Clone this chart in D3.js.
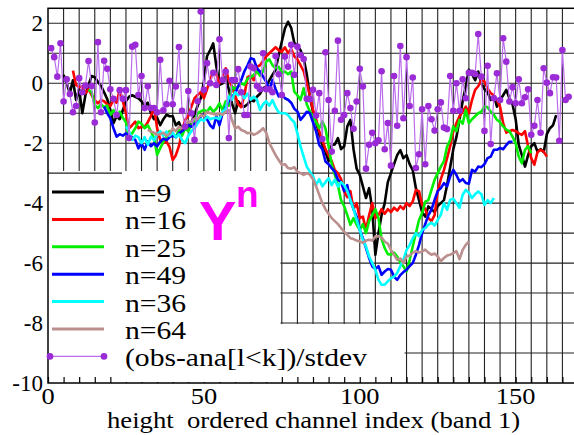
<!DOCTYPE html>
<html>
<head>
<meta charset="utf-8">
<script src="https://cdn.jsdelivr.net/npm/d3@7/dist/d3.min.js"></script>
</head>
<body style="margin:0">
<svg id="chart" width="574" height="435"></svg>
<script>

// Datos: cada serie empieza en un canal y sigue de uno en uno
var n9Start = 5;
var n9 = [0.28, 0.0, -0.33, 0.1, -0.56, -0.2, -1.0, -0.4, -0.06, 0.24, 0.2, 0.05, -0.09, -0.3, -0.53, -0.9,
  -1.33, -1.1, -1.2, -0.9, -0.6, -0.45, -0.4, -0.45, -0.5, -0.6, -0.75, -0.65, -1.0, -1.2, -1.15, -1.4,
  -1.2, -1.05, -1.1, -1.1, -1.4, -1.3, -1.55, -1.3, -1.55, -1.3, -1.05, -0.75, -0.5, 0.05, 0.9, 1.1,
  1.33, 0.56, -0.05, 0.0, 0.28, -0.22, -0.67, -1.0, -0.6, -0.75, -0.78, -0.7, -0.56, -0.6, -0.45, -0.35,
  -0.17, -0.1, 0.1, 0.28, 0.45, 0.94, 1.39, 1.83, 2.05, 1.85, 1.35, 1.25, 1.1, 0.83, 0.3, -0.45,
  -0.95, -1.3, -1.7, -2.05, -2.3, -2.6, -2.06, -2.04, -1.83, -2.2, -2.1, -1.44, -1.22, -2.2, -2.85, -3.06,
  -3.44, -3.83, -3.5, -4.2, -5.72, -5.0, -4.4, -4.0, -3.3, -3.0, -2.7, -2.4, -2.23, -2.5, -2.4, -2.7,
  -2.9, -3.5, -3.9, -4.3, -4.45, -4.11, -4.2, -4.3, -4.1, -4.0, -3.9, -3.4, -2.8, -2.2, -1.8, -1.2,
  -0.6, -0.1, 0.45, 0.3, 0.1, 0.39, 0.0, -0.2, -0.3, -0.56, -0.4, -0.78, -0.56, -0.4, -0.22, -0.5,
  -0.7, -1.2, -2.06, -2.4, -2.78, -2.4, -2.1, -2.0, -2.28, -2.2, -2.3, -1.7, -1.5, -1.4, -1.06];

var n16Start = 8;
var n16 = [0.42, -0.06, -0.13, -0.1, -0.33, -0.2, -0.4, -0.56, -0.67, -0.56, -0.6, -0.7, -0.76, -0.56, -0.65, -0.22,
  -0.6, -1.0, -1.5, -1.4, -1.28, -1.5, -1.45, -1.46, -1.3, -1.1, -0.78, -1.5, -1.89, -2.0, -1.95, -2.13,
  -2.56, -2.4, -2.1, -1.6, -1.22, -1.1, -0.78, -0.5, -0.39, -0.3, -0.5, -0.2, 0.1, 0.4, 0.3, 0.0,
  0.2, 0.5, 0.1, -0.1, -0.4, -0.7, -0.8, -0.4, 0.2, 0.25, 0.1, 0.55, 0.6, 0.75, 0.9, 1.0,
  1.1, 1.2, 1.1, 1.05, 1.2, 1.0, 1.15, 0.9, 0.8, 0.6, 0.4, 0.0, -0.4, -0.9, -1.2, -1.6,
  -1.9, -2.2, -2.4, -2.6, -2.9, -3.0, -3.2, -3.6, -3.8, -3.6, -4.2, -4.0, -4.5, -4.45, -4.9, -4.4,
  -4.0, -4.5, -4.4, -4.2, -4.35, -4.2, -4.3, -4.15, -4.25, -4.1, -4.2, -4.0, -4.1, -3.94, -3.56, -3.6,
  -4.06, -4.2, -4.5, -4.6, -4.4, -3.6, -3.2, -2.9, -2.5, -2.1, -1.6, -1.33, -1.1, -0.94, -0.78, -1.0,
  -0.56, -0.22, -0.1, 0.11, 0.05, -0.17, -0.33, -0.4, -0.56, -0.78, -1.33, -1.65, -1.6, -1.56, -1.6, -1.67,
  -1.72, -1.6, -2.11, -2.5, -2.72, -2.3, -2.22, -2.28, -2.45];

var n25Start = 13;
var n25 = [-0.22, -0.3, -0.72, -0.83, -0.7, -0.8, -0.75, -1.06, -0.9, -1.1, -0.95, -1.15, -1.3, -1.78, -1.67, -1.5,
  -1.28, -1.35, -1.5, -1.4, -1.6, -1.83, -2.39, -2.17, -1.95, -1.78, -1.6, -1.7, -1.8, -1.56, -1.75, -1.5,
  -1.6, -1.39, -1.25, -1.0, -0.94, -0.89, -0.95, -0.8, -0.95, -0.85, -0.67, -0.9, -0.6, -0.75, -0.11, -0.2,
  -0.11, 0.0, -0.05, 0.15, 0.2, 0.28, 0.4, 0.25, 0.4, 0.72, 0.8, 0.6, 0.5, 0.55, 0.35, 0.39,
  0.3, 0.39, -0.28, -0.4, -0.56, -0.17, -0.7, -0.94, -1.11, -1.3, -1.5, -1.28, -1.5, -2.1, -2.7, -3.06,
  -3.4, -3.9, -4.1, -4.4, -4.72, -4.5, -4.72, -4.89, -4.7, -5.0, -4.6, -4.4, -4.2, -4.5, -5.2, -5.5,
  -5.7, -5.72, -5.65, -5.78, -5.99, -6.11, -6.28, -5.9, -5.44, -5.0, -4.56, -4.33, -3.95, -3.9, -3.56, -3.22,
  -3.0, -2.78, -2.6, -2.11, -1.9, -1.44, -1.6, -1.22, -1.35, -0.89, -1.33, -1.2, -1.1, -1.0, -0.95, -0.78,
  -0.8, -0.95, -1.05, -1.22, -1.3, -1.44, -1.55, -1.6, -1.78, -2.0, -2.45, -2.67, -2.22, -2.1, -2.33];

var n49Start = 18;
var n49 = [-0.78, -1.0, -1.17, -1.5, -1.78, -1.7, -1.75, -1.67, -1.75, -1.8, -1.89, -2.17, -2.0, -2.22, -1.94, -2.1,
  -2.0, -2.1, -1.95, -1.85, -1.9, -1.8, -1.75, -1.8, -1.67, -1.6, -1.5, -1.4, -1.45, -1.35, -1.3, -1.1,
  -1.06, -1.2, -1.4, -1.5, -1.1, -1.4, -1.0, -0.8, -0.6, -0.44, -0.35, -0.1, 0.11, 0.4, 0.6, 0.83,
  0.8, 0.5, 0.39, 0.22, 0.05, -0.22, 0.11, -0.2, -0.44, -0.39, -0.5, -0.55, -0.65, -0.85, -0.94, -1.22,
  -1.1, -0.95, -1.0, -1.3, -1.61, -2.06, -2.2, -2.61, -2.7, -2.83, -2.95, -3.22, -3.3, -3.6, -3.4, -3.9,
  -4.2, -4.45, -4.9, -5.17, -5.5, -5.83, -6.11, -6.2, -6.1, -6.39, -6.28, -6.2, -6.22, -6.45, -6.56, -6.4,
  -6.3, -6.22, -6.1, -6.0, -5.72, -5.4, -5.0, -4.7, -4.4, -4.22, -3.89, -3.6, -3.5, -3.33, -3.44, -3.11,
  -2.89, -3.06, -3.28, -3.2, -3.33, -3.35, -2.89, -2.95, -2.78, -2.8, -2.7, -2.5, -2.45, -2.22, -2.22, -2.16,
  -2.2, -2.06, -1.95, -1.95];

var n36Start = 25;
var n36 = [-1.44, -1.6, -1.89, -1.75, -1.8, -2.0, -1.8, -2.05, -1.78, -1.9, -1.7, -1.6, -1.75, -1.61, -1.75, -1.65,
  -1.8, -1.7, -1.9, -2.0, -1.75, -1.6, -1.5, -1.33, -1.2, -1.25, -1.11, -1.2, -1.17, -1.15, -1.2, -0.95,
  -0.85, -0.44, -0.55, -0.3, -0.4, -0.33, -0.5, -0.35, -0.55, -0.45, -0.55, -0.89, -0.7, -0.6, -0.75, -0.56,
  -0.8, -0.97, -1.0, -1.0, -1.06, -1.2, -1.3, -1.67, -2.11, -2.45, -2.78, -2.95, -3.1, -3.39, -3.2, -3.44,
  -3.3, -3.17, -3.4, -3.22, -3.45, -3.3, -3.4, -3.6, -3.89, -4.2, -4.56, -4.9, -5.22, -5.45, -5.78, -6.0,
  -6.22, -6.56, -6.72, -6.72, -6.61, -6.5, -6.45, -6.33, -6.1, -5.89, -5.56, -5.4, -5.17, -5.0, -5.1, -4.9,
  -4.83, -4.72, -4.65, -4.75, -4.56, -4.39, -4.0, -4.22, -3.89, -3.85, -4.0, -4.15, -3.72, -3.56, -3.65, -3.83,
  -3.7, -3.61, -3.7, -4.06, -3.9, -4.0, -3.83];

var n64Start = 32;
var n64 = [-1.55, -1.61, -1.65, -1.72, -1.7, -1.65, -1.75, -1.7, -1.5, -1.6, -1.45, -1.5, -1.4, -1.28, -1.3, -1.18,
  -1.2, -1.06, -1.1, -0.95, -1.0, -1.02, -1.06, -1.0, -1.05, -0.95, -0.9, -1.22, -1.5, -1.45, -1.56, -1.6,
  -1.67, -1.65, -1.72, -1.67, -1.6, -1.5, -1.65, -2.0, -2.2, -2.4, -2.56, -2.72, -2.7, -2.83, -2.85, -2.8,
  -2.95, -3.0, -3.06, -3.0, -3.05, -3.2, -3.44, -3.72, -4.0, -4.2, -4.35, -4.5, -4.6, -4.7, -4.83, -4.95,
  -5.06, -5.17, -5.2, -5.25, -5.28, -5.32, -5.25, -5.22, -5.25, -5.11, -5.1, -5.15, -5.28, -5.35, -5.56, -5.72,
  -5.89, -5.85, -6.0, -5.78, -5.75, -5.65, -5.6, -5.65, -5.61, -5.55, -5.65, -5.72, -5.68, -5.78, -5.94, -5.83,
  -5.75, -5.72, -5.67, -5.6, -5.87, -5.56, -5.39, -5.28];

// (obs-ana)/stdev, un punto por canal
var obsStart = 1;
var obs = [1.17, 0.87, 0.22, 1.33, -0.61, 0.13, -0.36, -0.97, -0.76, 0.17, -0.3, -0.08, 0.74, -0.09, -1.31, 1.37,
  -0.97, 0.75, 0.48, -0.2, -0.52, -1.06, -0.23, -0.52, -0.23, -1.83, 1.22, 1.28, -0.39, 0.24, -0.83, -0.1,
  -0.83, -0.83, -0.97, 0.78, -0.9, -0.7, 0.08, -0.7, -0.11, 1.21, -0.92, -1.45, -0.26, -1.0, -1.89, -0.6,
  2.39, -0.22, 0.67, 0.0, 0.35, -0.06, 1.47, 0.11, 0.39, -1.83, 0.11, 0.11, 0.47, -0.3, -1.06, -1.06,
  0.56, 0.5, -0.09, -0.2, 1.0, -0.2, -0.2, -0.3, 0.91, 0.3, -0.39, 0.89, 0.55, 1.28, 0.28, 1.22,
  0.94, 0.81, -0.52, -0.53, -0.22, -1.08, -0.33, -1.86, 1.03, -0.56, -2.28, -0.92, 1.42, -1.22, -1.06, -0.33,
  -0.83, -1.52, -0.61, 0.48, -0.11, -2.85, -2.05, -1.65, -2.0, -1.9, 0.4, -2.2, -1.33, -2.75, 0.24, -1.42,
  1.24, -1.17, 0.87, -0.76, 0.19, -2.83, -2.37, -0.87, -2.7, -0.76, -1.2, -1.58, -0.87, -0.64, -1.48, -1.53,
  0.24, -0.92, 0.0, -0.92, 0.13, -0.5, 0.35, 0.35, 0.31, 1.64, 0.22, -1.59, 0.58, -2.03, -0.5, 0.33,
  -0.56, 1.5, 0.72, -0.61, -0.13, -0.67, 0.13, -0.67, -0.47, -0.2, -1.72, -1.42, -0.56, -1.65, 0.5, 0.02,
  -0.33, 0.2, 0.19, -1.92, 1.11, -0.56, -0.45];

// Etiquetas
var xTickLabels = [0, 50, 100, 150];
var yTickLabels = [2, 0, -2, -4, -6, -8, -10];
var xTitle = "height\u00a0 ordered channel index (band 1)";
var obsLabel = "(obs-ana[l<k])/stdev";

// Series de lineas (orden de la leyenda)
var series = [
  { label: "n=9", start: n9Start, values: n9, color: "#000000" },
  { label: "n=16", start: n16Start, values: n16, color: "#ff0000" },
  { label: "n=25", start: n25Start, values: n25, color: "#00ee00" },
  { label: "n=49", start: n49Start, values: n49, color: "#0000ff" },
  { label: "n=36", start: n36Start, values: n36, color: "#00ffff" },
  { label: "n=64", start: n64Start, values: n64, color: "#bc8f8f" }
];

function toPoints(start, values) {
  return values.map(function (v, i) { return [start + i, v]; });
}

var SERIF = "'Times New Roman', 'Liberation Serif', Tinos";

// Escalas
var x = d3.scaleLinear().domain([0, 170]).range([48, 578]);
var y = d3.scaleLinear().domain([-10, 2.5]).range([383, 8.3]);

var svg = d3.select("#chart");

svg.append("defs").append("clipPath").attr("id", "plotClip")
  .append("rect")
  .attr("x", x(0)).attr("y", y(2.5))
  .attr("width", x(170) - x(0)).attr("height", y(-10) - y(2.5));

// Rejilla
var grid = svg.append("g").attr("stroke", "#222").attr("stroke-width", 1.1);
grid.selectAll(".vg")
  .data(d3.range(5, 170, 5))
  .enter().append("line")
  .attr("x1", function (d) { return x(d); }).attr("x2", function (d) { return x(d); })
  .attr("y1", y(2.5)).attr("y2", y(-10));
grid.selectAll(".hg")
  .data(d3.range(-9, 3, 1))
  .enter().append("line")
  .attr("x1", x(0)).attr("x2", x(170))
  .attr("y1", function (d) { return y(d); }).attr("y2", function (d) { return y(d); });

// Fondo de la leyenda
svg.append("path")
  .attr("d", "M" + x(0) + "," + 171 + "H" + 280.5 + "V" + 324 + "H" + 404.5 + "V" + y(-10) + "H" + x(0) + "Z")
  .attr("fill", "#fff");

svg.append("line")
  .attr("x1", x(0)).attr("x2", 122)
  .attr("y1", y(-3)).attr("y2", y(-3))
  .attr("stroke", "#222").attr("stroke-width", 1.1);

// Marcas del eje X
var xAxis = d3.axisBottom(x)
  .tickValues(d3.range(0, 171, 5))
  .tickSize(-6)
  .tickFormat("");
svg.append("g")
  .attr("transform", "translate(0," + y(-10) + ")")
  .call(xAxis)
  .call(function (g) {
    g.select(".domain").remove();
    g.selectAll("line").attr("stroke", "#000").attr("stroke-width", 1.2);
  });

// Panel blanco de los textos
svg.append("rect")
  .attr("x", 122).attr("y", 172)
  .attr("width", 158).attr("height", y(-10) - 173)
  .attr("fill", "#fff");

// Marco
svg.append("rect")
  .attr("x", x(0)).attr("y", y(2.5))
  .attr("width", x(170) - x(0)).attr("height", y(-10) - y(2.5))
  .attr("fill", "none").attr("stroke", "#000").attr("stroke-width", 1.5);

// Lineas
var line = d3.line()
  .x(function (d) { return x(d[0]); })
  .y(function (d) { return y(d[1]); });

var plot = svg.append("g").attr("clip-path", "url(#plotClip)");

plot.selectAll(".series")
  .data(series)
  .enter().append("path")
  .attr("class", "series")
  .attr("d", function (d) { return line(toPoints(d.start, d.values)); })
  .attr("fill", "none")
  .attr("stroke", function (d) { return d.color; })
  .attr("stroke-width", 2.6)
  .attr("stroke-linejoin", "round");

var obsPts = toPoints(obsStart, obs);
plot.append("path")
  .attr("d", line(obsPts))
  .attr("fill", "none")
  .attr("stroke", "#bb6cec")
  .attr("stroke-width", 1.2);

plot.selectAll(".dot")
  .data(obsPts)
  .enter().append("circle")
  .attr("class", "dot")
  .attr("cx", function (d) { return x(d[0]); })
  .attr("cy", function (d) { return y(d[1]); })
  .attr("r", 3.3)
  .attr("fill", "#9a2bd6");

// Leyenda
var rowY = function (i) { return 192 + i * 27.4; };
var legend = svg.append("g");

legend.selectAll(".lgl")
  .data(series)
  .enter().append("line")
  .attr("x1", 52).attr("x2", 104)
  .attr("y1", function (d, i) { return rowY(i); })
  .attr("y2", function (d, i) { return rowY(i); })
  .attr("stroke", function (d) { return d.color; })
  .attr("stroke-width", 3);

legend.selectAll(".lgt")
  .data(series.map(function (d) { return d.label; }).concat([obsLabel]))
  .enter().append("text")
  .attr("transform", function (d, i) { return "translate(125," + (rowY(i) + 10) + ") scale(1.14,1)"; })
  .style("font-family", SERIF, "important")
  .style("font-size", "26px")
  .attr("fill", "#000")
  .text(function (d) { return d; });

var obsRow = rowY(series.length);
legend.append("line")
  .attr("x1", 50).attr("x2", 104)
  .attr("y1", obsRow).attr("y2", obsRow)
  .attr("stroke", "#bb6cec").attr("stroke-width", 1.3);
legend.selectAll(".lgd")
  .data([50, 104])
  .enter().append("circle")
  .attr("cx", function (d) { return d; })
  .attr("cy", obsRow)
  .attr("r", 3.3)
  .attr("fill", "#9a2bd6");

// Y^n
svg.append("text")
  .attr("x", 199).attr("y", 240)
  .style("font-family", "'Liberation Sans'", "important").style("font-weight", "bold").style("font-size", "56px")
  .attr("fill", "#ff00ff")
  .text("Y");
svg.append("text")
  .attr("x", 236).attr("y", 207)
  .style("font-family", "'Liberation Sans'", "important").style("font-weight", "bold").style("font-size", "37px")
  .attr("fill", "#ff00ff")
  .text("n");

// Etiquetas de los ejes
svg.selectAll(".ylab")
  .data(yTickLabels)
  .enter().append("text")
  .attr("x", 43)
  .attr("y", function (d) { return y(d) + 8; })
  .attr("text-anchor", "end")
  .style("font-family", SERIF, "important")
  .style("font-size", "23px")
  .text(function (d) { return d; });

svg.selectAll(".xlab")
  .data(xTickLabels)
  .enter().append("text")
  .attr("transform", function (d) { return "translate(" + x(d) + ",404) scale(1.15,1)"; })
  .attr("text-anchor", "middle")
  .style("font-family", SERIF, "important")
  .style("font-size", "23px")
  .text(function (d) { return d; });

svg.append("text")
  .attr("transform", "translate(107,428) scale(1.16,1)")
  .style("font-family", SERIF, "important")
  .style("font-size", "23px")
  .text(xTitle);

</script>
</body>
</html>
